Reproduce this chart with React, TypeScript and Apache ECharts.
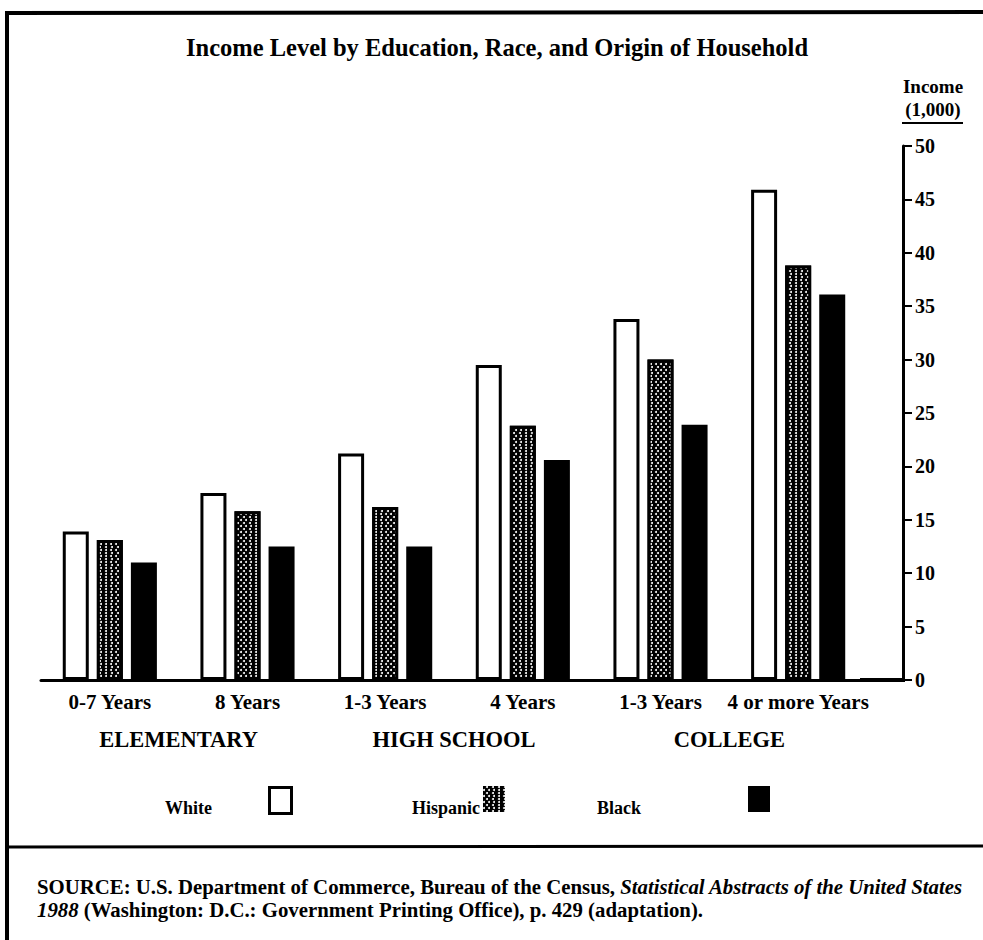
import React, { useEffect, useRef } from 'react';
import * as echarts from 'echarts';

const categories = ['0-7 Years', '8 Years', '1-3 Years', '4 Years', '1-3 Years', '4 or more Years'];
const groups = ['ELEMENTARY', 'HIGH SCHOOL', 'COLLEGE'];
const seriesNames = ['White', 'Hispanic', 'Black'];
const whiteValues = [13.9, 17.5, 21.2, 29.5, 33.8, 45.9];
const hispanicValues = [13.1, 15.8, 16.2, 23.8, 30.0, 38.8];
const blackValues = [11.0, 12.5, 12.5, 20.6, 23.9, 36.1];
const yMin = 0;
const yMax = 50;
const yInterval = 5;
const titleText = 'Income Level by Education, Race, and Origin of Household';
const axisNameLines = ['Income', '(1,000)'];
const sourcePrefix = 'SOURCE: U.S. Department of Commerce, Bureau of the Census, ';
const sourceItalic1 = 'Statistical Abstracts of the United States';
const sourceItalic2 = '1988';
const sourceSuffix = ' (Washington: D.C.: Government Printing Office), p. 429 (adaptation).';

const FONT = '"Liberation Serif", "Times New Roman", serif';

export default function App() {
  const ref = useRef<HTMLDivElement>(null);
  useEffect(() => {
    if (!ref.current) return;
    const chart = echarts.init(ref.current, null, { renderer: 'svg' });
    const barBase = {
      type: 'bar' as const,
      barWidth: 26,
      barGap: '31%',
      xAxisIndex: 0,
      yAxisIndex: 0,
    };
    const legendIcon = (name: string, left: number, borderWidth: number) => ({
      data: [name],
      left,
      top: 781,
      align: 'left',
      icon: 'rect',
      itemWidth: 22,
      itemHeight: 26,
      selectedMode: false,
      formatter: () => '',
      itemStyle: { borderColor: '#000', borderWidth },
      textStyle: { fontSize: 1 },
    });
    const legendLabel = (text: string, x: number) => ({
      type: 'text',
      x,
      y: 808,
      style: {
        text,
        fontFamily: FONT,
        fontWeight: 'bold',
        fontSize: 18,
        fill: '#000',
        textAlign: 'left',
        textVerticalAlign: 'middle',
      },
    });
    chart.setOption({
      animation: false,
      backgroundColor: '#fff',
      grid: { left: 41, right: 116, top: 146, bottom: 260 },
      xAxis: [
        {
          type: 'category',
          data: categories,
          gridIndex: 0,
          axisLine: { show: true, lineStyle: { color: '#000', width: 3 } },
          axisTick: { show: false },
          axisLabel: {
            color: '#000',
            fontFamily: FONT,
            fontWeight: 'bold',
            fontSize: 21,
            margin: 11,
            interval: 0,
          },
        },
        {
          type: 'category',
          data: groups,
          gridIndex: 0,
          position: 'bottom',
          axisLine: { show: false },
          axisTick: { show: false },
          axisLabel: {
            color: '#000',
            fontFamily: FONT,
            fontWeight: 'bold',
            fontSize: 22.5,
            margin: 48,
            interval: 0,
          },
        },
      ],
      yAxis: {
        type: 'value',
        position: 'right',
        offset: 36,
        min: yMin,
        max: yMax,
        interval: yInterval,
        splitLine: { show: false },
        axisLine: { show: true, lineStyle: { color: '#000', width: 3 } },
        axisTick: { show: true, inside: false, length: 9, lineStyle: { color: '#000', width: 2 } },
        axisLabel: {
          color: '#000',
          fontFamily: FONT,
          fontWeight: 'bold',
          fontSize: 20,
          margin: 12,
        },
      },
      legend: [
        legendIcon(seriesNames[0], 263, 3),
        legendIcon(seriesNames[1], 478, 0),
        legendIcon(seriesNames[2], 743, 0),
      ],
      series: [
        {
          ...barBase,
          name: seriesNames[0],
          data: whiteValues,
          itemStyle: { color: '#fff', borderColor: '#000', borderWidth: 3 },
        },
        {
          ...barBase,
          name: seriesNames[1],
          data: hispanicValues,
          itemStyle: {
            color: '#000',
            borderColor: '#000',
            borderWidth: 3,
            decal: {
              symbol: 'circle',
              symbolSize: 1,
              color: '#fff',
              backgroundColor: '#000',
              dashArrayX: [[1.6, 3], [0, 2.3, 1.6, 0.7]],
              dashArrayY: [1.6, 0.9],
              rotation: 0,
            },
          },
        },
        {
          ...barBase,
          name: seriesNames[2],
          data: blackValues,
          itemStyle: { color: '#000', borderColor: '#000', borderWidth: 3 },
        },
      ],
      graphic: [
        { type: 'line', shape: { x1: 5, y1: 13, x2: 983, y2: 12 }, style: { stroke: '#000', lineWidth: 4 } },
        { type: 'line', shape: { x1: 7, y1: 11, x2: 7, y2: 940 }, style: { stroke: '#000', lineWidth: 4 } },
        { type: 'line', shape: { x1: 5, y1: 847, x2: 983, y2: 846 }, style: { stroke: '#000', lineWidth: 3 } },
        { type: 'rect', z: 100, shape: { x: 860, y: 678, width: 45, height: 4 }, style: { fill: '#000', stroke: null } },
        {
          type: 'text',
          x: 497,
          y: 47,
          style: {
            text: titleText,
            fontFamily: FONT,
            fontWeight: 'bold',
            fontSize: 24.5,
            fill: '#000',
            textAlign: 'center',
            textVerticalAlign: 'middle',
          },
        },
        {
          type: 'text',
          x: 933,
          y: 86,
          style: {
            text: axisNameLines[0],
            fontFamily: FONT,
            fontWeight: 'bold',
            fontSize: 19,
            fill: '#000',
            textAlign: 'center',
            textVerticalAlign: 'middle',
          },
        },
        {
          type: 'text',
          x: 933,
          y: 109,
          style: {
            text: axisNameLines[1],
            fontFamily: FONT,
            fontWeight: 'bold',
            fontSize: 19,
            fill: '#000',
            textAlign: 'center',
            textVerticalAlign: 'middle',
          },
        },
        { type: 'line', shape: { x1: 902, y1: 123, x2: 963, y2: 123 }, style: { stroke: '#000', lineWidth: 2 } },
        legendLabel(seriesNames[0], 165),
        legendLabel(seriesNames[1], 412),
        legendLabel(seriesNames[2], 597),
        {
          type: 'text',
          x: 37,
          y: 875,
          style: {
            text:
              '{b|' + sourcePrefix + '}{i|' + sourceItalic1 + '}\n{i|' + sourceItalic2 + '}{b|' + sourceSuffix + '}',
            rich: {
              b: { fontFamily: FONT, fontWeight: 'bold', fontSize: 20.8, fill: '#000', lineHeight: 23 },
              i: { fontFamily: FONT, fontWeight: 'bold', fontStyle: 'italic', fontSize: 20.8, fill: '#000', lineHeight: 23 },
            },
          },
        },
      ],
    });
    return () => chart.dispose();
  }, []);
  return (
    <div
      ref={ref}
      style={{ position: 'absolute', left: 0, top: 0, width: 983, height: 940, background: '#fff' }}
    />
  );
}
